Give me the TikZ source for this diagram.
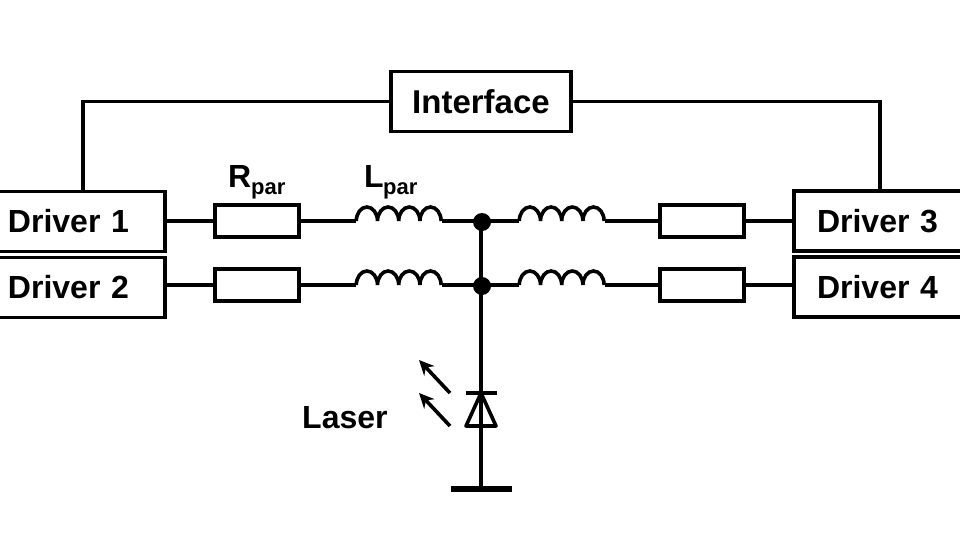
\documentclass[tikz,border=0pt]{standalone}
\usepackage{fontspec}
\setmainfont{Liberation Sans}
\usetikzlibrary{arrows.meta, calc}

\tikzset{
  wire/.style={line width=3.6pt},
  labeltext/.style={font=\fontsize{32}{36}\selectfont\bfseries, inner sep=0pt},
  subtext/.style={font=\fontsize{22}{24}\selectfont\bfseries, inner sep=0pt},
  driverbox/.style={wire, draw, anchor=west, outer sep=0pt, minimum width=180pt, minimum height=60pt, text width=134pt, inner xsep=23pt, align=left, font=\fontsize{32}{36}\selectfont\bfseries},
  parres/.style={wire, draw, outer sep=0pt, minimum width=84pt, minimum height=32pt, inner sep=0pt},
  coilbox/.style={minimum width=85pt, minimum height=1pt, inner sep=0pt},
  junction/.style={circle, fill, minimum size=18pt, inner sep=0pt},
  raytip/.style={wire, -{Stealth[length=15pt, width=14pt]}}
}

\begin{document}
\begin{tikzpicture}[x=1pt, y=-1pt]
  \clip (0,0) rectangle (960,540);
  \fill[white] (0,0) rectangle (960,540);

  \node[wire, draw, outer sep=0pt, minimum width=180pt, minimum height=60pt, font=\fontsize{33}{36}\selectfont\bfseries] (intf) at (481,101.5) {Interface};

  \node[driverbox] (drvA) at (-15,221.5) {Driver 1};
  \node[driverbox] (drvB) at (-15,287.5) {Driver 2};
  \node[driverbox] (drvC) at (794,221) {Driver 3};
  \node[driverbox] (drvD) at (794,287) {Driver 4};

  \node[parres] (resA) at (257,221) {};
  \node[parres] (resB) at (257,285) {};
  \node[parres] (resC) at (702,221) {};
  \node[parres] (resD) at (702,285) {};

  \node[coilbox] (coilA) at (399,221) {};
  \node[coilbox] (coilB) at (399,285) {};
  \node[coilbox] (coilC) at (562,221) {};
  \node[coilbox] (coilD) at (562,285) {};

  \node[junction] (jnA) at (482,222) {};
  \node[junction] (jnB) at (482,286) {};

  % laser diode
  \coordinate (dioTop) at (481,393);
  \coordinate (dioBot) at (481,426);
  \coordinate (gnd) at (481,489);

  \foreach \n in {coilA,coilB,coilC,coilD}
    \draw[wire] (\n.west)
      arc[start angle=180, end angle=0, x radius=10.6pt, y radius=14pt]
      arc[start angle=180, end angle=0, x radius=10.6pt, y radius=14pt]
      arc[start angle=180, end angle=0, x radius=10.6pt, y radius=14pt]
      arc[start angle=180, end angle=0, x radius=10.6pt, y radius=14pt];

  \draw[wire] (resA.west -| drvA.east) -- (resA.west);
  \draw[wire] (resB.west -| drvB.east) -- (resB.west);
  \draw[wire] (resC.east -| drvC.west) -- (resC.east);
  \draw[wire] (resD.east -| drvD.west) -- (resD.east);

  \draw[wire] (resA) -- (coilA);
  \draw[wire] (resB) -- (coilB);
  \draw[wire] (resC) -- (coilC);
  \draw[wire] (resD) -- (coilD);

  \draw[wire] (coilA.east) -- (coilA.east -| jnA);
  \draw[wire] (coilB.east) -- (coilB.east -| jnB);
  \draw[wire] (coilC.west) -- (coilC.west -| jnA);
  \draw[wire] (coilD.west) -- (coilD.west -| jnB);

  \draw[wire] (intf.west) -| ([xshift=8pt]drvA.north);
  \draw[wire] (intf.east) -| ([xshift=-4pt]drvC.north);

  \draw[wire] (gnd |- jnA) -- (gnd);

  \draw[wire] ($(dioTop)+(-15,0)$) -- ($(dioTop)+(16,0)$);
  \draw[wire, line join=round] (dioTop) -- ($(dioBot)+(-15,0)$) -- ($(dioBot)+(15,0)$) -- cycle;
  \draw[line width=6.4pt] ($(gnd)+(-30,0)$) -- ($(gnd)+(31,0)$);

  \coordinate (rayA) at (450,393);
  \coordinate (rayB) at (450,426);
  \coordinate (tipA) at (419,360);
  \coordinate (tipB) at (419,393);
  \draw[raytip] (rayA) -- (tipA);
  \draw[raytip] (rayB) -- (tipB);

  \node[labeltext, anchor=base west] (rLabel) at (228,187) {R};
  \node[subtext, anchor=base west] (rSub) at (251,194) {par};
  \node[labeltext, anchor=base west] (lLabel) at (364,187) {L};
  \node[subtext, anchor=base west] (lSub) at (383,194) {par};
  \node[labeltext, anchor=base west] (lsrLabel) at (302,428) {Laser};
\end{tikzpicture}
\end{document}
